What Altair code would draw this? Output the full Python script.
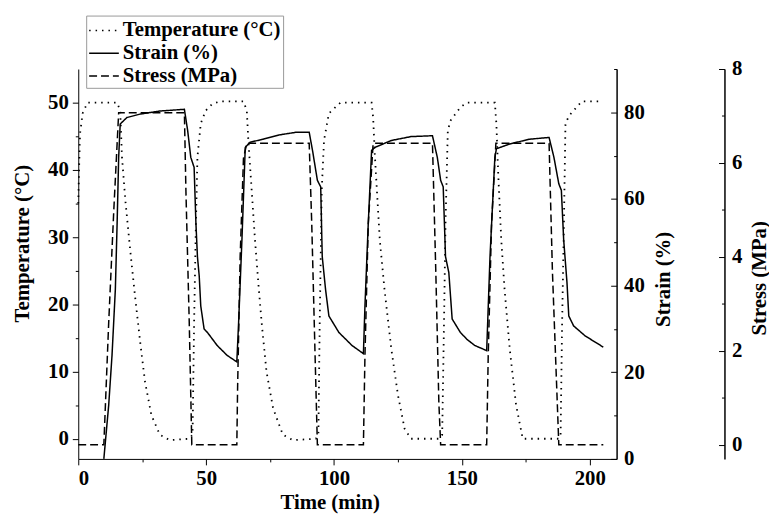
import altair as alt
import pandas as pd

SERIES = ["Temperature (°C)", "Strain (%)", "Stress (MPa)"]

# Temperature (°C) vs time (min)
temp_t = [0, 0.3, 0.7, 1.7, 3.6, 15.2, 16.4, 17.1, 18.4, 20.3, 22.2, 24.2, 26.1, 28.6, 31.9, 35.7, 43.4,
          44.7, 45.3, 46.0, 46.6, 47.9, 49.8, 52.4, 55.6, 64.6, 65.9, 66.5, 67.8, 69.1, 70.4, 71.7, 73.6,
          76.2, 80.0, 83.9, 92.9, 93.9, 94.4, 95.2, 96.1, 98.0, 102.5, 114.7, 115.3, 116.0, 117.9, 119.8,
          122.4, 125.0, 127.6, 130.1, 141.0, 142.3, 143.0, 143.6, 144.5, 145.5, 149.4, 151.9, 162.9, 163.5,
          164.2, 165.4, 166.7, 168.7, 171.2, 173.8, 187.9, 188.6, 189.2, 189.9, 190.5, 191.8, 196.9, 203.3]
temp_v = [35, 40, 45.4, 48.4, 50, 50, 48.8, 41.9, 35.5, 28.1, 21.2, 14.4, 8.5, 3.5, 0.6, -0.2, 0,
          0.6, 17.4, 32, 41.9, 46.9, 48.8, 49.8, 50.2, 50.2, 48.8, 44.4, 37, 29.6, 23.2, 17.3, 10,
          4.5, 0.6, -0.2, 0, 0.6, 17, 37, 44.4, 48.4, 50, 50, 47.8, 42, 29.6, 22,
          13.4, 6.5, 1.5, 0, 0, 0.6, 17, 32, 45.8, 47.3, 49.3, 50, 50, 46.8,
          39.5, 29.6, 22.2, 13.4, 5, 0, 0, 0.6, 17.3, 32, 46.8, 48, 50.2, 50.2]

# Strain (%) vs time (min)
strain_t = [10, 11.9, 13.2, 14.5, 15.2, 15.8, 16.4, 19, 24.2, 31.9, 41.5, 42.8, 44, 45.3, 46, 46.6, 47.3,
            47.9, 49.2, 50.5, 54.3, 58.2, 62, 62.7, 64, 65.3, 67.2, 72.3, 78.7, 85.2, 90.3, 91.6, 93.5,
            94.8, 95.4, 96.7, 98, 101.9, 107, 111.5, 112.1, 113.4, 114.7, 116, 122.4, 130.1, 138.5, 140.4,
            141.7, 142.7, 143.6, 144.9, 146.2, 149.4, 152, 155, 159.7, 161, 162.9, 163.5, 168.7, 176.4,
            184.1, 186, 187.9, 188.9, 189.8, 191.1, 191.8, 193.7, 198.2, 205.3]
strain_v = [0, 12.4, 23.9, 39.1, 54.5, 69.6, 77.3, 78.8, 79.6, 80.3, 80.7, 75.7, 69.6, 67.3, 54.5, 46.7, 42.2,
            35.3, 30, 29.2, 26.2, 23.9, 22.4, 31.5, 50.6, 71.9, 73.1, 73.8, 74.8, 75.4, 75.4, 71.2, 64.3,
            62.8, 46.7, 39.1, 33, 29.2, 26.2, 24.3, 35.3, 54.4, 71.2, 71.9, 73.5, 74.4, 74.6, 69.6,
            64.3, 62.8, 46.7, 43, 32.3, 29.2, 27.6, 26.2, 25, 46.7, 69.6, 71.6, 72.7, 73.8,
            74.2, 69.6, 63.5, 62, 50.6, 40.7, 33, 30.7, 28.4, 25.8]

# Stress (MPa) vs time (min)
stress_t = [0, 10, 11.9, 13.9, 15.8, 41.5, 42.1, 43.4, 44.4, 62, 62.3, 63.3, 64.6, 65.9, 90.3, 91.3, 92.6,
            93.5, 111.5, 112.1, 113.4, 115.3, 138.5, 139.8, 141, 141.7, 159.7, 160.3, 161.6, 163.3, 184.1,
            185.4, 187.3, 187.9, 205.3]
stress_v = [0, 0, 2.6, 5.0, 7.07, 7.07, 5.4, 2.6, 0, 0, 1.2, 4.0, 6.1, 6.42, 6.42, 4.7, 1.9,
            0, 0, 1.9, 4.7, 6.42, 6.42, 3.7, 0.9, 0, 0, 1.9, 4.7, 6.42, 6.42,
            3.7, 0.9, 0, 0]

x_ticks = [0, 25, 50, 75, 100, 125, 150, 175, 200]
temp_ticks = [0, 5, 10, 15, 20, 25, 30, 35, 40, 45, 50]
strain_ticks = [0, 10, 20, 30, 40, 50, 60, 70, 80, 90]
stress_ticks = [0, 1, 2, 3, 4, 5, 6, 7, 8]

df_temp = pd.DataFrame({"t": temp_t, "v": temp_v, "s": SERIES[0]})
df_strain = pd.DataFrame({"t": strain_t, "v": strain_v, "s": SERIES[1]})
df_stress = pd.DataFrame({"t": stress_t, "v": stress_v, "s": SERIES[2]})

FONT = "Liberation Serif"
FS = 21
W, H = 544, 394


def cond_size(mod):
    return {"condition": {"test": f"datum.value % {mod} === 0", "value": 6}, "value": 3}


x_enc = alt.X(
    "t:Q",
    scale=alt.Scale(domain=[0, 210.5], nice=False, zero=False),
    axis=alt.Axis(
        values=x_ticks,
        labelExpr="datum.value % 50 === 0 ? datum.label : ''",
        tickSize=cond_size(50),
        labelPadding=3,
        title="Time (min)",
        titleX=254,
        titleY=44,
        titleBaseline="middle",
        titleAlign="center",
    ),
)

dash_scale = alt.Scale(domain=SERIES, range=[[1.5, 5], [1, 0], [8, 4]])

legend = alt.Legend(
    title=None,
    orient="none",
    legendX=8,
    legendY=-54,
    symbolType="M-1.25,0L1.25,0",
    symbolSize=576,
    symbolOffset=3,
    symbolStrokeWidth=1.5,
    symbolStrokeColor="black",
    symbolFillColor="transparent",
    labelFont=FONT,
    labelFontSize=FS,
    labelFontWeight="bold",
    labelColor="black",
    labelLimit=400,
    labelOffset=6,
    strokeColor="#999999",
    padding=2,
    rowPadding=0,
)

dash_enc = alt.StrokeDash("s:N", scale=dash_scale, legend=legend)

temp_layer = alt.Chart(df_temp).mark_line(color="black", strokeWidth=1.8).encode(
    x=x_enc,
    y=alt.Y(
        "v:Q",
        scale=alt.Scale(domain=[-3, 55], nice=False, zero=False),
        axis=alt.Axis(
            orient="left",
            values=temp_ticks,
            labelExpr="datum.value % 10 === 0 ? datum.label : ''",
            tickSize=cond_size(10),
            labelPadding=4,
            title="Temperature (°C)",
            titleAngle=270,
            titleX=-56,
            titleY=176,
            titleBaseline="middle",
            titleAlign="center",
        ),
    ),
    strokeDash=dash_enc,
    order="t:Q",
)

strain_scale = alt.Scale(domain=[0, 90], nice=False, zero=False)
strain_layer = alt.Chart(df_strain).mark_line(color="black", strokeWidth=1.5).encode(
    x=x_enc,
    y=alt.Y(
        "v:Q",
        scale=strain_scale,
        axis=alt.Axis(
            orient="right",
            values=strain_ticks,
            labelExpr="datum.value % 20 === 0 ? datum.label : ''",
            ticks=False,
            labelPadding=7,
            title="Strain (%)",
            titleAngle=270,
            titleX=47,
            titleY=212,
            titleBaseline="middle",
            titleAlign="center",
        ),
    ),
    strokeDash=dash_enc,
    order="t:Q",
)

# inward-pointing ticks on the strain axis
strain_ticks_layer = alt.Chart(df_strain).mark_point(opacity=0).encode(
    x=x_enc,
    y=alt.Y(
        "v:Q",
        scale=strain_scale,
        axis=alt.Axis(
            orient="left",
            offset=-W,
            values=strain_ticks,
            labels=False,
            domain=True,
            tickSize=cond_size(20),
            title=None,
        ),
    ),
)

stress_scale = alt.Scale(domain=[-0.3, 8], nice=False, zero=False)
stress_layer = alt.Chart(df_stress).mark_line(color="black", strokeWidth=1.5).encode(
    x=x_enc,
    y=alt.Y(
        "v:Q",
        scale=stress_scale,
        axis=alt.Axis(
            orient="right",
            offset=109,
            values=stress_ticks,
            labelExpr="datum.value % 2 === 0 ? datum.label : ''",
            ticks=False,
            labelPadding=7,
            title="Stress (MPa)",
            titleAngle=270,
            titleX=35,
            titleY=211,
            titleBaseline="middle",
            titleAlign="center",
        ),
    ),
    strokeDash=dash_enc,
    order="t:Q",
)

# inward-pointing ticks on the stress axis
stress_ticks_layer = alt.Chart(df_stress).mark_point(opacity=0).encode(
    x=x_enc,
    y=alt.Y(
        "v:Q",
        scale=stress_scale,
        axis=alt.Axis(
            orient="left",
            offset=-(W + 109),
            values=stress_ticks,
            labels=False,
            domain=True,
            tickSize=cond_size(2),
            title=None,
        ),
    ),
)

chart = (
    alt.layer(temp_layer, strain_layer, strain_ticks_layer, stress_layer, stress_ticks_layer)
    .resolve_scale(y="independent", strokeDash="shared")
    .properties(
        width=W,
        height=H,
        autosize=alt.AutoSizeParams(type="none"),
        padding={"left": 71, "top": 59, "right": 154, "bottom": 53},
    )
    .configure_view(stroke=None)
    .configure_axis(
        labelFont=FONT,
        labelFontSize=FS,
        labelFontWeight="bold",
        labelColor="black",
        titleFont=FONT,
        titleFontSize=FS,
        titleFontWeight="bold",
        titleColor="black",
        domainColor="black",
        domainWidth=1,
        tickColor="black",
        tickWidth=1,
        grid=False,
    )
)

chart.save("out.html", embed_options={"renderer": "svg", "actions": False})
